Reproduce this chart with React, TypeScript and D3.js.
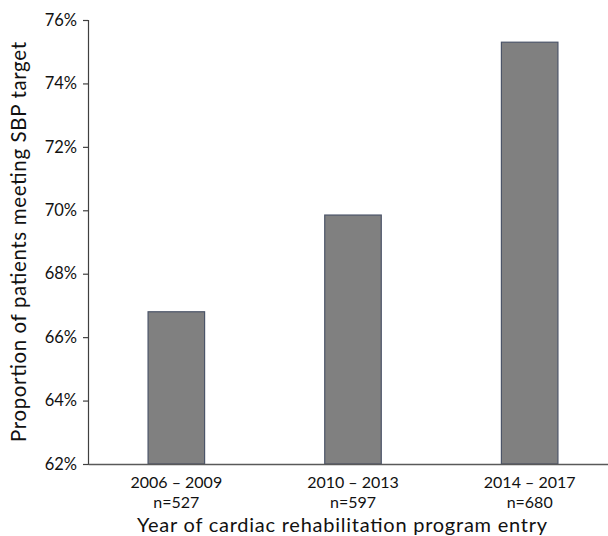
import * as d3 from 'd3'
import { useEffect, useRef } from 'react'

const width = 608
const height = 536
const marginTop = 20
const marginRight = -10
const marginBottom = 72
const marginLeft = 88

const periods = ['2006 – 2009', '2010 – 2013', '2014 – 2017']
const counts = ['n=527', 'n=597', 'n=680']
const proportions = [66.8, 69.85, 75.3]
const yTicks = [62, 64, 66, 68, 70, 72, 74, 76]

const font = "Lato, 'Open Sans', sans-serif"

export default function App() {
  const ref = useRef<SVGSVGElement>(null)

  useEffect(() => {
    const svg = d3.select(ref.current)
    svg.selectAll('*').remove()

    const x = d3
      .scaleBand<string>()
      .domain(periods)
      .range([marginLeft, width - marginRight])
      .paddingInner(0.68)
      .paddingOuter(0.34)

    const y = d3.scaleLinear([62, 76], [height - marginBottom, marginTop])

    // bars
    svg
      .append('g')
      .selectAll('rect')
      .data(proportions)
      .join('rect')
      .attr('x', (_, i) => x(periods[i])!)
      .attr('y', d => y(d))
      .attr('width', x.bandwidth())
      .attr('height', d => y(62) - y(d))
      .attr('fill', '#808080')
      .attr('stroke', '#4b5468')
      .attr('stroke-width', 1.2)

    // y axis
    svg
      .append('g')
      .attr('transform', `translate(${marginLeft},0)`)
      .call(
        d3
          .axisLeft(y)
          .tickValues(yTicks)
          .tickSize(5)
          .tickPadding(6)
          .tickFormat(d => `${d}%`)
      )
      .call(g => g.selectAll('path, line').attr('stroke', '#404040').attr('stroke-width', 1.2))
      .call(g =>
        g.selectAll('text').attr('font-family', font).attr('font-size', 16.5).attr('fill', '#111')
      )

    // x axis, two-line category labels
    svg
      .append('g')
      .attr('transform', `translate(0,${y(62)})`)
      .call(d3.axisBottom(x).tickSize(0).tickSizeOuter(0).tickFormat(() => ''))
      .call(g => g.select('.domain').attr('stroke', '#595959').attr('stroke-width', 1.5))
      .call(g =>
        g
          .selectAll('.tick')
          .append('text')
          .attr('fill', '#111')
          .attr('font-family', font)
          .attr('font-size', 16)
          .attr('text-anchor', 'middle')
          .selectAll('tspan')
          .data((_, i) => [periods[i], counts[i]])
          .join('tspan')
          .attr('x', 0)
          .attr('y', (_, j) => 24 + j * 20)
          .text(d => d)
      )

    // axis titles
    svg
      .append('text')
      .attr('x', 342)
      .attr('y', 531.5)
      .attr('text-anchor', 'middle')
      .attr('font-family', font)
      .attr('font-size', 20)
      .attr('textLength', 410)
      .attr('lengthAdjust', 'spacing')
      .attr('fill', '#111')
      .text('Year of cardiac rehabilitation program entry')

    svg
      .append('text')
      .attr('transform', `translate(26,${(marginTop + y(62)) / 2}) rotate(-90)`)
      .attr('text-anchor', 'middle')
      .attr('font-family', font)
      .attr('font-size', 20.5)
      .attr('textLength', 400)
      .attr('lengthAdjust', 'spacing')
      .attr('fill', '#111')
      .text('Proportion of patients meeting SBP target')
  }, [])

  return (
    <svg
      ref={ref}
      width={width}
      height={height}
      viewBox={`0 0 ${width} ${height}`}
      style={{ position: 'absolute', left: 0, top: 0, background: '#fff' }}
    ></svg>
  )
}
